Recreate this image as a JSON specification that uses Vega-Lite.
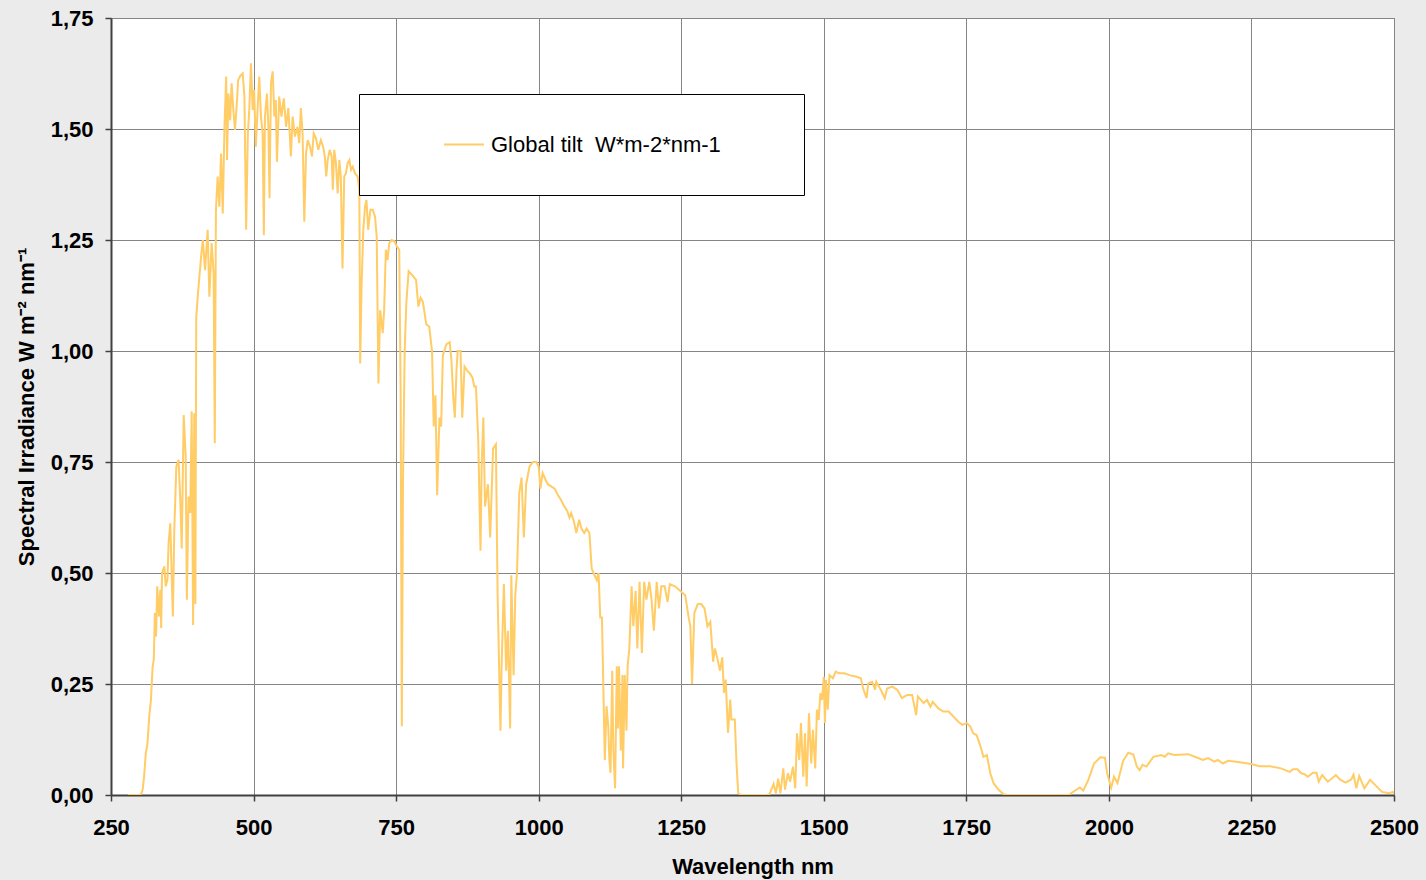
{
"$schema": "https://vega.github.io/schema/vega-lite/v6.json",
"width": 1283, "height": 777,
"autosize": {"type": "none"},
"padding": {"left": 111, "top": 18, "right": 32, "bottom": 85},
"background": "#ebebeb",
"config": {
 "view": {"fill": "white", "stroke": "#808080", "strokeWidth": 1},
 "font": "Liberation Sans",
 "axis": {"domainColor": "#404040", "domainWidth": 2, "tickColor": "#404040", "tickWidth": 1.5, "tickSize": 6,
  "labelFont": "Liberation Sans", "labelFontSize": 22, "labelFontWeight": "bold", "labelColor": "black",
  "titleFont": "Liberation Sans", "titleFontSize": 22, "titleFontWeight": "bold", "titleColor": "black",
  "gridColor": "#858585", "gridWidth": 1, "gridOpacity": 1}
},
"data": {"values": [
{"w":280,"v":0},{"w":290,"v":0},{"w":300,"v":0},{"w":303,"v":0.003},{"w":305.5,"v":0.011},{"w":308,"v":0.041},{"w":311,"v":0.094},{"w":314,"v":0.117},{"w":317,"v":0.176},{"w":320,"v":0.214},{"w":323,"v":0.289},{"w":325,"v":0.304},{"w":327,"v":0.41},{"w":329,"v":0.357},{"w":331,"v":0.47},{"w":334,"v":0.402},{"w":336.5,"v":0.462},{"w":338,"v":0.376},{"w":339.5,"v":0.5},{"w":343.5,"v":0.515},{"w":346,"v":0.47},{"w":349,"v":0.485},{"w":351,"v":0.567},{"w":354,"v":0.612},{"w":356,"v":0.515},{"w":358.5,"v":0.402},{"w":361,"v":0.597},{"w":364.5,"v":0.739},{"w":368.5,"v":0.755},{"w":371.5,"v":0.665},{"w":374,"v":0.555},{"w":377.5,"v":0.856},{"w":381,"v":0.762},{"w":383,"v":0.44},{"w":386,"v":0.672},{"w":389,"v":0.635},{"w":391.5,"v":0.864},{"w":394,"v":0.383},{"w":396,"v":0.86},{"w":398,"v":0.43},{"w":399.5,"v":1.077},{"w":403,"v":1.137},{"w":408,"v":1.212},{"w":411,"v":1.25},{"w":415,"v":1.182},{"w":419.5,"v":1.273},{"w":422.5,"v":1.122},{"w":426.5,"v":1.243},{"w":430,"v":1.175},{"w":432,"v":0.792},{"w":434,"v":1.318},{"w":437,"v":1.393},{"w":440,"v":1.325},{"w":443,"v":1.445},{"w":446,"v":1.31},{"w":449,"v":1.505},{"w":452,"v":1.618},{"w":453.5,"v":1.43},{"w":456,"v":1.58},{"w":459,"v":1.52},{"w":461.5,"v":1.603},{"w":465,"v":1.535},{"w":467.5,"v":1.498},{"w":471,"v":1.565},{"w":473,"v":1.61},{"w":477,"v":1.62},{"w":481,"v":1.625},{"w":484,"v":1.573},{"w":487,"v":1.273},{"w":490,"v":1.49},{"w":492.5,"v":1.543},{"w":495.5,"v":1.648},{"w":498.5,"v":1.543},{"w":501,"v":1.588},{"w":504,"v":1.46},{"w":507,"v":1.543},{"w":510,"v":1.618},{"w":513,"v":1.528},{"w":516,"v":1.49},{"w":518,"v":1.261},{"w":520,"v":1.528},{"w":523.5,"v":1.58},{"w":526,"v":1.505},{"w":528,"v":1.344},{"w":530.5,"v":1.603},{"w":533.5,"v":1.63},{"w":536.5,"v":1.528},{"w":539,"v":1.565},{"w":541,"v":1.426},{"w":545,"v":1.573},{"w":549,"v":1.528},{"w":553,"v":1.569},{"w":557,"v":1.505},{"w":561,"v":1.547},{"w":565.5,"v":1.438},{"w":568.5,"v":1.528},{"w":572.5,"v":1.483},{"w":577,"v":1.505},{"w":580,"v":1.468},{"w":583,"v":1.547},{"w":586,"v":1.49},{"w":589,"v":1.291},{"w":592,"v":1.445},{"w":595,"v":1.475},{"w":599,"v":1.46},{"w":602.5,"v":1.438},{"w":605.5,"v":1.49},{"w":609.5,"v":1.479},{"w":613.5,"v":1.453},{"w":618,"v":1.475},{"w":622,"v":1.46},{"w":625,"v":1.438},{"w":627.5,"v":1.393},{"w":630,"v":1.43},{"w":633.5,"v":1.453},{"w":637,"v":1.438},{"w":639,"v":1.363},{"w":641.5,"v":1.453},{"w":644.5,"v":1.423},{"w":647.5,"v":1.355},{"w":650.5,"v":1.43},{"w":653,"v":1.393},{"w":656,"v":1.186},{"w":659,"v":1.393},{"w":662,"v":1.4},{"w":665,"v":1.423},{"w":668,"v":1.43},{"w":671,"v":1.408},{"w":674,"v":1.415},{"w":678,"v":1.4},{"w":682.5,"v":1.393},{"w":685.5,"v":1.363},{"w":687,"v":0.972},{"w":689.5,"v":1.152},{"w":692.5,"v":1.273},{"w":695.5,"v":1.325},{"w":698,"v":1.34},{"w":701,"v":1.273},{"w":705,"v":1.318},{"w":709,"v":1.318},{"w":713,"v":1.303},{"w":716,"v":1.257},{"w":719,"v":0.927},{"w":722,"v":1.092},{"w":726.5,"v":1.04},{"w":729,"v":1.092},{"w":732,"v":1.228},{"w":735,"v":1.205},{"w":738,"v":1.243},{"w":742,"v":1.25},{"w":747,"v":1.247},{"w":751.5,"v":1.235},{"w":755.5,"v":1.228},{"w":758,"v":0.9},{"w":760,"v":0.155},{"w":762,"v":0.7},{"w":765,"v":1.0},{"w":768,"v":1.11},{"w":772,"v":1.18},{"w":779,"v":1.17},{"w":785,"v":1.16},{"w":789,"v":1.1},{"w":793,"v":1.12},{"w":797,"v":1.11},{"w":803,"v":1.06},{"w":808,"v":1.055},{"w":813,"v":1.0},{"w":816,"v":0.83},{"w":819,"v":0.9},{"w":822,"v":0.675},{"w":826,"v":0.85},{"w":829,"v":0.83},{"w":832,"v":0.99},{"w":838,"v":1.015},{"w":844,"v":1.02},{"w":847,"v":0.98},{"w":850,"v":0.9},{"w":853,"v":0.85},{"w":856,"v":0.96},{"w":858,"v":1.0},{"w":863,"v":1.0},{"w":866,"v":0.85},{"w":870,"v":0.965},{"w":875,"v":0.955},{"w":879,"v":0.95},{"w":884,"v":0.94},{"w":887,"v":0.92},{"w":890,"v":0.92},{"w":894,"v":0.8},{"w":898,"v":0.55},{"w":900,"v":0.74},{"w":903,"v":0.85},{"w":906,"v":0.65},{"w":911,"v":0.7},{"w":915,"v":0.58},{"w":920,"v":0.78},{"w":925,"v":0.79},{"w":928,"v":0.45},{"w":933,"v":0.145},{"w":935,"v":0.29},{"w":939,"v":0.475},{"w":943,"v":0.28},{"w":946,"v":0.37},{"w":950,"v":0.15},{"w":952,"v":0.495},{"w":956,"v":0.27},{"w":959,"v":0.45},{"w":962,"v":0.5},{"w":966,"v":0.68},{"w":970,"v":0.715},{"w":974,"v":0.58},{"w":978,"v":0.7},{"w":984,"v":0.74},{"w":990,"v":0.75},{"w":996,"v":0.75},{"w":1000,"v":0.74},{"w":1003,"v":0.69},{"w":1007,"v":0.725},{"w":1012,"v":0.71},{"w":1016,"v":0.7},{"w":1022,"v":0.695},{"w":1028,"v":0.69},{"w":1034,"v":0.675},{"w":1039,"v":0.665},{"w":1045,"v":0.65},{"w":1050,"v":0.64},{"w":1054,"v":0.625},{"w":1057,"v":0.635},{"w":1062,"v":0.615},{"w":1066,"v":0.59},{"w":1071,"v":0.62},{"w":1075,"v":0.6},{"w":1080,"v":0.59},{"w":1084,"v":0.6},{"w":1089,"v":0.59},{"w":1093,"v":0.51},{"w":1098,"v":0.495},{"w":1102,"v":0.484},{"w":1105,"v":0.5},{"w":1108,"v":0.4},{"w":1111,"v":0.4},{"w":1113,"v":0.27},{"w":1116,"v":0.079},{"w":1119,"v":0.2},{"w":1122,"v":0.155},{"w":1124,"v":0.08},{"w":1126,"v":0.05},{"w":1129,"v":0.28},{"w":1131,"v":0.1},{"w":1134,"v":0.015},{"w":1137,"v":0.29},{"w":1139,"v":0.15},{"w":1141,"v":0.29},{"w":1144,"v":0.1},{"w":1147,"v":0.27},{"w":1148,"v":0.06},{"w":1151,"v":0.27},{"w":1154,"v":0.145},{"w":1156,"v":0.29},{"w":1159,"v":0.33},{"w":1163,"v":0.47},{"w":1166,"v":0.38},{"w":1170,"v":0.46},{"w":1173,"v":0.33},{"w":1177,"v":0.48},{"w":1181,"v":0.32},{"w":1185,"v":0.48},{"w":1189,"v":0.44},{"w":1194,"v":0.48},{"w":1198,"v":0.44},{"w":1202,"v":0.37},{"w":1207,"v":0.48},{"w":1211,"v":0.42},{"w":1215,"v":0.47},{"w":1221,"v":0.47},{"w":1226,"v":0.435},{"w":1230,"v":0.475},{"w":1239,"v":0.47},{"w":1248,"v":0.46},{"w":1257,"v":0.45},{"w":1263,"v":0.4},{"w":1266,"v":0.38},{"w":1269,"v":0.25},{"w":1273,"v":0.41},{"w":1279,"v":0.43},{"w":1285,"v":0.43},{"w":1291,"v":0.42},{"w":1296,"v":0.38},{"w":1301,"v":0.39},{"w":1306,"v":0.3},{"w":1309,"v":0.33},{"w":1313,"v":0.31},{"w":1318,"v":0.28},{"w":1322,"v":0.31},{"w":1325,"v":0.23},{"w":1328,"v":0.26},{"w":1332,"v":0.14},{"w":1336,"v":0.215},{"w":1338,"v":0.17},{"w":1344,"v":0.17},{"w":1347,"v":0.07},{"w":1350,"v":0.004},{"w":1355,"v":0},{"w":1400,"v":0},{"w":1405,"v":0.002},{"w":1412,"v":0.025},{"w":1416,"v":0.004},{"w":1420,"v":0.037},{"w":1424,"v":0.004},{"w":1429,"v":0.06},{"w":1432,"v":0.012},{"w":1437,"v":0.049},{"w":1441,"v":0.03},{"w":1446,"v":0.064},{"w":1450,"v":0.015},{"w":1453,"v":0.139},{"w":1457,"v":0.079},{"w":1460,"v":0.162},{"w":1464,"v":0.041},{"w":1467,"v":0.139},{"w":1470,"v":0.019},{"w":1474,"v":0.184},{"w":1478,"v":0.071},{"w":1481,"v":0.147},{"w":1485,"v":0.06},{"w":1488,"v":0.192},{"w":1491,"v":0.169},{"w":1494,"v":0.229},{"w":1497,"v":0.214},{"w":1500,"v":0.266},{"w":1502,"v":0.162},{"w":1504,"v":0.259},{"w":1507,"v":0.192},{"w":1510,"v":0.27},{"w":1516,"v":0.263},{"w":1521,"v":0.278},{"w":1527,"v":0.274},{"w":1536,"v":0.274},{"w":1545,"v":0.27},{"w":1556,"v":0.267},{"w":1565,"v":0.263},{"w":1569,"v":0.24},{"w":1575,"v":0.218},{"w":1578,"v":0.251},{"w":1585,"v":0.255},{"w":1590,"v":0.237},{"w":1592,"v":0.255},{"w":1600,"v":0.237},{"w":1607,"v":0.218},{"w":1611,"v":0.24},{"w":1620,"v":0.244},{"w":1629,"v":0.237},{"w":1637,"v":0.218},{"w":1646,"v":0.225},{"w":1655,"v":0.225},{"w":1662,"v":0.18},{"w":1665,"v":0.222},{"w":1675,"v":0.207},{"w":1681,"v":0.214},{"w":1687,"v":0.199},{"w":1691,"v":0.21},{"w":1701,"v":0.195},{"w":1710,"v":0.188},{"w":1719,"v":0.188},{"w":1730,"v":0.173},{"w":1736,"v":0.165},{"w":1743,"v":0.158},{"w":1751,"v":0.162},{"w":1757,"v":0.154},{"w":1762,"v":0.139},{"w":1768,"v":0.135},{"w":1774,"v":0.113},{"w":1780,"v":0.086},{"w":1786,"v":0.09},{"w":1792,"v":0.049},{"w":1798,"v":0.026},{"w":1807,"v":0.011},{"w":1815,"v":0.002},{"w":1821,"v":0},{"w":1930,"v":0},{"w":1935,"v":0.005},{"w":1949,"v":0.017},{"w":1955,"v":0.01},{"w":1964,"v":0.034},{"w":1974,"v":0.071},{"w":1985,"v":0.085},{"w":1993,"v":0.084},{"w":1997,"v":0.049},{"w":2004,"v":0.016},{"w":2009,"v":0.041},{"w":2015,"v":0.027},{"w":2025,"v":0.077},{"w":2034,"v":0.095},{"w":2043,"v":0.091},{"w":2049,"v":0.064},{"w":2054,"v":0.056},{"w":2059,"v":0.068},{"w":2066,"v":0.064},{"w":2078,"v":0.086},{"w":2092,"v":0.09},{"w":2098,"v":0.086},{"w":2104,"v":0.094},{"w":2115,"v":0.09},{"w":2139,"v":0.092},{"w":2153,"v":0.085},{"w":2165,"v":0.079},{"w":2174,"v":0.083},{"w":2185,"v":0.075},{"w":2191,"v":0.079},{"w":2200,"v":0.071},{"w":2209,"v":0.077},{"w":2223,"v":0.075},{"w":2250,"v":0.07},{"w":2264,"v":0.065},{"w":2282,"v":0.065},{"w":2302,"v":0.06},{"w":2317,"v":0.052},{"w":2323,"v":0.058},{"w":2331,"v":0.058},{"w":2337,"v":0.049},{"w":2343,"v":0.047},{"w":2349,"v":0.041},{"w":2358,"v":0.05},{"w":2364,"v":0.05},{"w":2368,"v":0.03},{"w":2374,"v":0.045},{"w":2384,"v":0.03},{"w":2398,"v":0.045},{"w":2405,"v":0.035},{"w":2415,"v":0.028},{"w":2425,"v":0.035},{"w":2429,"v":0.046},{"w":2434,"v":0.015},{"w":2439,"v":0.043},{"w":2448,"v":0.015},{"w":2458,"v":0.034},{"w":2469,"v":0.02},{"w":2479,"v":0.007},{"w":2492,"v":0.004},{"w":2498,"v":0.007},{"w":2500,"v":0.003}
]},
"mark": {"type": "line", "strokeWidth": 2, "clip": true},
"encoding": {
 "x": {"field": "w", "type": "quantitative",
  "scale": {"domain": [250, 2500], "nice": false, "zero": false},
  "axis": {"values": [250, 500, 750, 1000, 1250, 1500, 1750, 2000, 2250, 2500], "format": "d", "title": "Wavelength nm", "labelPadding": 16, "titlePadding": 18, "labelFlush": false}},
 "y": {"field": "v", "type": "quantitative",
  "scale": {"domain": [0, 1.75], "nice": false},
  "axis": {"values": [0, 0.25, 0.5, 0.75, 1, 1.25, 1.5, 1.75], "labelExpr": "replace(format(datum.value, '.2f'), '.', ',')", "title": "Spectral Irradiance W m⁻² nm⁻¹", "labelPadding": 12, "titlePadding": 12, "labelFlush": false}},
 "color": {"datum": "Global tilt\u00a0 W*m-2*nm-1", "type": "nominal",
  "scale": {"range": ["#FFCC66"]},
  "legend": {"title": null, "orient": "none", "legendX": 248, "legendY": 76, "fillColor": "white", "strokeColor": "black", "padding": 39.5, "symbolType": "M-2,0H2", "symbolSize": 400, "symbolStrokeWidth": 2, "symbolOffset": 54.5, "labelFont": "Liberation Sans", "labelFontSize": 22, "labelColor": "black", "labelOffset": 16, "labelLimit": 0, "labelExpr": "datum.label + '\u00a0\u00a0\u00a0\u00a0\u00a0\u00a0\u00a0\u200b'"}}
}
}
